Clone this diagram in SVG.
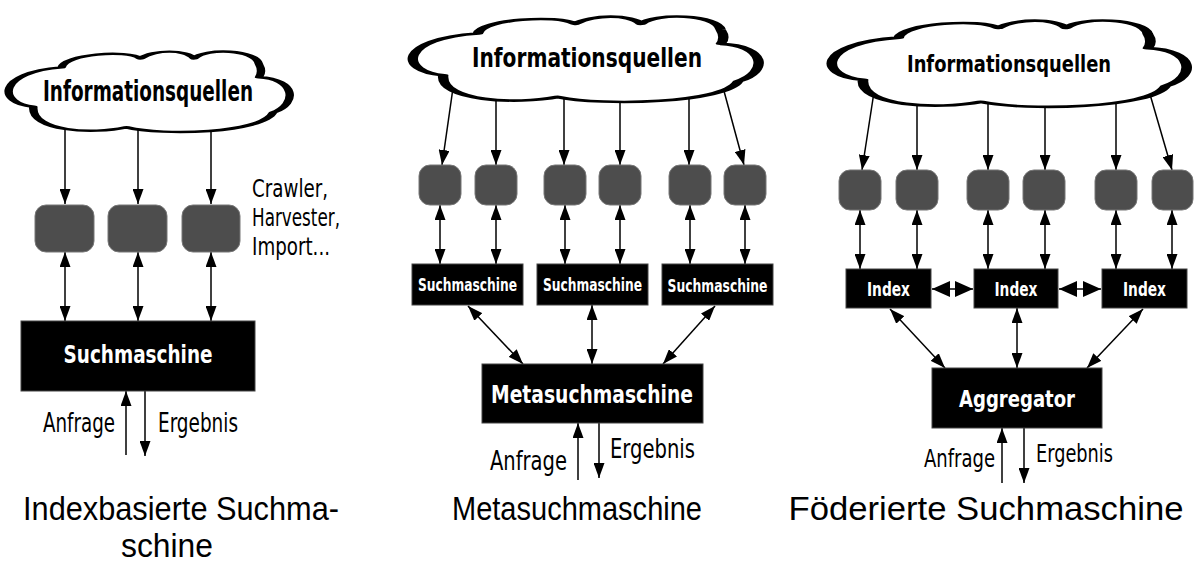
<svg xmlns="http://www.w3.org/2000/svg" width="1202" height="575" viewBox="0 0 1202 575">
<defs>
<style>
.cloud{fill:#fff;stroke:#000;stroke-width:3;vector-effect:non-scaling-stroke;stroke-linejoin:round}
.crawl{fill:#4d4d4d;stroke:#777;stroke-width:1}
.box{fill:#000;stroke:#444;stroke-width:1}
.ln{stroke:#000;stroke-width:1.5;fill:none}
.a1{marker-end:url(#ah)}
.a2{marker-start:url(#ah);marker-end:url(#ah)}
.a3{marker-start:url(#ahb);marker-end:url(#ahb)}
.ct{font-family:"DejaVu Sans Condensed","DejaVu Sans",sans-serif;font-weight:bold;fill:#000;text-anchor:middle}
.bt{font-family:"DejaVu Sans Condensed","DejaVu Sans",sans-serif;font-weight:bold;fill:#fff;text-anchor:middle}
.lt{font-family:"DejaVu Sans Condensed","DejaVu Sans",sans-serif;fill:#000}
.cap{font-family:"Liberation Sans",Arial,sans-serif;font-size:33px;fill:#000;text-anchor:middle}
</style>
<marker id="ah" viewBox="0 0 15 11" refX="15" refY="5.5" markerWidth="15" markerHeight="11" markerUnits="userSpaceOnUse" orient="auto-start-reverse"><path d="M0,0L15,5.5L0,11z" fill="#000"/></marker>
<marker id="ahb" viewBox="0 0 18 16" refX="18" refY="8" markerWidth="18" markerHeight="16" markerUnits="userSpaceOnUse" orient="auto-start-reverse"><path d="M0,0L18,8L0,16z" fill="#000"/></marker>
<path id="cloudshape" d="M9 68C-4 64 -4 26 19 20C20 4 42 -2 47 9C52 -2 63 -2 66 9C70 -4 88 -2 89 16C90 22 90 27 89 32C102 34 103 64 94 75C90 100 55 104 42 93C30 102 8 98 9 68Z"/>
</defs>

<g id="connectors">
<!-- panel 1 -->
<line class="ln a1" x1="65" y1="128" x2="65" y2="204"/>
<line class="ln a1" x1="138" y1="128" x2="138" y2="204"/>
<line class="ln a1" x1="211" y1="128" x2="211" y2="204"/>
<line class="ln a2" x1="65" y1="252" x2="65" y2="321"/>
<line class="ln a2" x1="138" y1="252" x2="138" y2="321"/>
<line class="ln a2" x1="211" y1="252" x2="211" y2="321"/>
<line class="ln a1" x1="126" y1="455" x2="126" y2="391"/>
<line class="ln a1" x1="145" y1="391" x2="145" y2="456"/>
<!-- panel 2 -->
<line class="ln a1" x1="453" y1="88" x2="442" y2="165"/>
<line class="ln a1" x1="496" y1="95" x2="496" y2="165"/>
<line class="ln a1" x1="564" y1="95" x2="564" y2="165"/>
<line class="ln a1" x1="620" y1="95" x2="620" y2="165"/>
<line class="ln a1" x1="689" y1="90" x2="689" y2="165"/>
<line class="ln a1" x1="721" y1="80" x2="744" y2="165"/>
<line class="ln a2" x1="440" y1="205" x2="440" y2="264"/>
<line class="ln a2" x1="496" y1="205" x2="496" y2="264"/>
<line class="ln a2" x1="565" y1="205" x2="565" y2="264"/>
<line class="ln a2" x1="620" y1="205" x2="620" y2="264"/>
<line class="ln a2" x1="690" y1="205" x2="690" y2="264"/>
<line class="ln a2" x1="745" y1="205" x2="745" y2="264"/>
<line class="ln a2" x1="468" y1="306" x2="523" y2="364"/>
<line class="ln a2" x1="592" y1="305" x2="592" y2="364"/>
<line class="ln a2" x1="715" y1="306" x2="663" y2="364"/>
<line class="ln a1" x1="578" y1="480" x2="578" y2="423"/>
<line class="ln a1" x1="599" y1="423" x2="599" y2="478"/>
<!-- panel 3 -->
<line class="ln a1" x1="874" y1="92" x2="862" y2="170"/>
<line class="ln a1" x1="917" y1="100" x2="917" y2="170"/>
<line class="ln a1" x1="988" y1="100" x2="988" y2="170"/>
<line class="ln a1" x1="1045" y1="100" x2="1045" y2="170"/>
<line class="ln a1" x1="1116" y1="92" x2="1116" y2="170"/>
<line class="ln a1" x1="1147" y1="84" x2="1172" y2="170"/>
<line class="ln a2" x1="860" y1="210" x2="860" y2="269"/>
<line class="ln a2" x1="917" y1="210" x2="917" y2="269"/>
<line class="ln a2" x1="988" y1="210" x2="988" y2="269"/>
<line class="ln a2" x1="1045" y1="210" x2="1045" y2="269"/>
<line class="ln a2" x1="1116" y1="210" x2="1116" y2="269"/>
<line class="ln a2" x1="1172" y1="210" x2="1172" y2="269"/>
<line class="ln a3" x1="932" y1="289" x2="973" y2="289"/>
<line class="ln a3" x1="1059" y1="289" x2="1101" y2="289"/>
<line class="ln a2" x1="890" y1="309" x2="945" y2="368"/>
<line class="ln a2" x1="1017" y1="308" x2="1017" y2="368"/>
<line class="ln a2" x1="1143" y1="309" x2="1087" y2="368"/>
<line class="ln a1" x1="1002" y1="483" x2="1002" y2="428"/>
<line class="ln a1" x1="1024" y1="428" x2="1024" y2="483"/>
</g>

<!-- Panel 1 -->
<g id="p1-cloud">
<use href="#cloudshape" class="cloud" transform="translate(8,51) scale(2.82,0.82)"/>
<text class="ct" x="148" y="101" font-size="29" textLength="210" lengthAdjust="spacingAndGlyphs">Informationsquellen</text>
</g>
<g id="p1-crawler1"><rect class="crawl" x="35" y="205" width="59" height="47" rx="11"/></g>
<g id="p1-crawler2"><rect class="crawl" x="108" y="205" width="59" height="47" rx="11"/></g>
<g id="p1-crawler3"><rect class="crawl" x="182" y="205" width="58" height="47" rx="11"/></g>
<g id="p1-crawler-label">
<text class="lt" x="252" y="197" font-size="25" textLength="76" lengthAdjust="spacingAndGlyphs">Crawler,</text>
<text class="lt" x="252" y="226" font-size="25" textLength="88" lengthAdjust="spacingAndGlyphs">Harvester,</text>
<text class="lt" x="252" y="255" font-size="25" textLength="78" lengthAdjust="spacingAndGlyphs">Import...</text>
</g>
<g id="p1-suchmaschine">
<rect class="box" x="21" y="321" width="234" height="70"/>
<text class="bt" x="138" y="363" font-size="25" textLength="149" lengthAdjust="spacingAndGlyphs">Suchmaschine</text>
</g>
<g id="p1-io">
<text class="lt" x="43" y="432" font-size="26" textLength="72" lengthAdjust="spacingAndGlyphs">Anfrage</text>
<text class="lt" x="158" y="432" font-size="26" textLength="80" lengthAdjust="spacingAndGlyphs">Ergebnis</text>
</g>

<!-- Panel 2 -->
<g id="p2-cloud">
<use href="#cloudshape" class="cloud" transform="translate(412,16) scale(3.47,0.87)"/>
<text class="ct" x="587" y="67" font-size="26" textLength="230" lengthAdjust="spacingAndGlyphs">Informationsquellen</text>
</g>
<g id="p2-crawler1"><rect class="crawl" x="419" y="165" width="42" height="40" rx="11"/></g>
<g id="p2-crawler2"><rect class="crawl" x="475" y="165" width="42" height="40" rx="11"/></g>
<g id="p2-crawler3"><rect class="crawl" x="544" y="165" width="42" height="40" rx="11"/></g>
<g id="p2-crawler4"><rect class="crawl" x="599" y="165" width="42" height="40" rx="11"/></g>
<g id="p2-crawler5"><rect class="crawl" x="669" y="165" width="42" height="40" rx="11"/></g>
<g id="p2-crawler6"><rect class="crawl" x="724" y="165" width="42" height="40" rx="11"/></g>
<g id="p2-such1">
<rect class="box" x="412" y="264" width="111" height="41"/>
<text class="bt" x="467.5" y="291" font-size="17" textLength="99" lengthAdjust="spacingAndGlyphs">Suchmaschine</text>
</g>
<g id="p2-such2">
<rect class="box" x="537" y="264" width="111" height="41"/>
<text class="bt" x="592.5" y="291" font-size="17" textLength="99" lengthAdjust="spacingAndGlyphs">Suchmaschine</text>
</g>
<g id="p2-such3">
<rect class="box" x="662" y="264" width="111" height="41"/>
<text class="bt" x="717.5" y="292" font-size="17" textLength="100" lengthAdjust="spacingAndGlyphs">Suchmaschine</text>
</g>
<g id="p2-meta">
<rect class="box" x="482" y="364" width="221" height="59"/>
<text class="bt" x="592" y="403" font-size="25" textLength="202" lengthAdjust="spacingAndGlyphs">Metasuchmaschine</text>
</g>
<g id="p2-io">
<text class="lt" x="490" y="470" font-size="26" textLength="77" lengthAdjust="spacingAndGlyphs">Anfrage</text>
<text class="lt" x="610" y="458" font-size="26" textLength="85" lengthAdjust="spacingAndGlyphs">Ergebnis</text>
</g>

<!-- Panel 3 -->
<g id="p3-cloud">
<use href="#cloudshape" class="cloud" transform="translate(831,20) scale(3.56,0.88)"/>
<text class="ct" x="1009" y="72" font-size="23" textLength="204" lengthAdjust="spacingAndGlyphs">Informationsquellen</text>
</g>
<g id="p3-crawler1"><rect class="crawl" x="839" y="170" width="42" height="40" rx="11"/></g>
<g id="p3-crawler2"><rect class="crawl" x="896" y="170" width="42" height="40" rx="11"/></g>
<g id="p3-crawler3"><rect class="crawl" x="967" y="170" width="42" height="40" rx="11"/></g>
<g id="p3-crawler4"><rect class="crawl" x="1023" y="170" width="42" height="40" rx="11"/></g>
<g id="p3-crawler5"><rect class="crawl" x="1095" y="170" width="42" height="40" rx="11"/></g>
<g id="p3-crawler6"><rect class="crawl" x="1152" y="170" width="41" height="40" rx="11"/></g>
<g id="p3-index1">
<rect class="box" x="846" y="269" width="85" height="39"/>
<text class="bt" x="888.5" y="296" font-size="20" textLength="43" lengthAdjust="spacingAndGlyphs">Index</text>
</g>
<g id="p3-index2">
<rect class="box" x="974" y="269" width="84" height="39"/>
<text class="bt" x="1016" y="296" font-size="20" textLength="43" lengthAdjust="spacingAndGlyphs">Index</text>
</g>
<g id="p3-index3">
<rect class="box" x="1102" y="269" width="85" height="39"/>
<text class="bt" x="1144.5" y="296" font-size="20" textLength="43" lengthAdjust="spacingAndGlyphs">Index</text>
</g>
<g id="p3-aggregator">
<rect class="box" x="932" y="368" width="170" height="60"/>
<text class="bt" x="1017" y="407" font-size="23" textLength="116" lengthAdjust="spacingAndGlyphs">Aggregator</text>
</g>
<g id="p3-io">
<text class="lt" x="924" y="467" font-size="24" textLength="71" lengthAdjust="spacingAndGlyphs">Anfrage</text>
<text class="lt" x="1036" y="462" font-size="24" textLength="77" lengthAdjust="spacingAndGlyphs">Ergebnis</text>
</g>

<g id="captions">
<text class="cap" x="181" y="520" textLength="316" lengthAdjust="spacingAndGlyphs">Indexbasierte Suchma-</text>
<text class="cap" x="167" y="557" textLength="92" lengthAdjust="spacingAndGlyphs">schine</text>
<text class="cap" x="577" y="520" textLength="250" lengthAdjust="spacingAndGlyphs">Metasuchmaschine</text>
<text class="cap" x="986" y="520" textLength="395" lengthAdjust="spacingAndGlyphs">Föderierte Suchmaschine</text>
</g>
</svg>
